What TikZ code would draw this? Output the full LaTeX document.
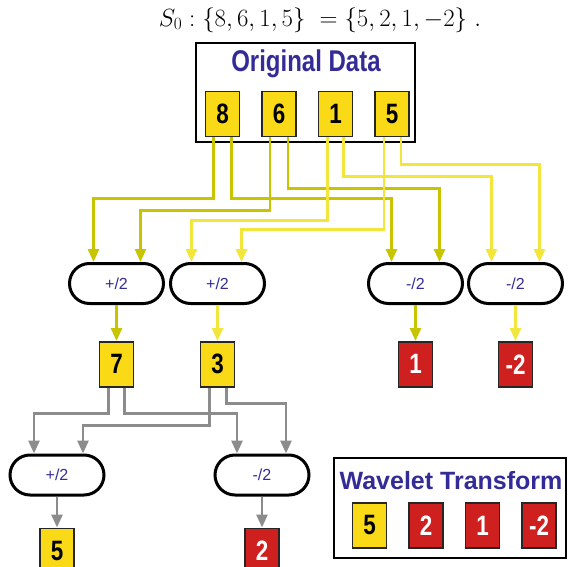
\documentclass[tikz,border=0pt]{standalone}
\usepackage{fontspec}
\newfontfamily\narrowfont[FakeStretch=0.8]{Liberation Sans}
\newfontfamily\plainfont{Liberation Sans}
\usetikzlibrary{arrows.meta,positioning,calc}
\definecolor{boxyellow}{RGB}{250,218,22}
\definecolor{boxred}{RGB}{206,32,30}
\definecolor{lineolive}{RGB}{200,196,0}
\definecolor{lineyellow}{RGB}{242,230,60}
\definecolor{linegray}{RGB}{140,140,140}
\definecolor{txtblue}{RGB}{52,44,150}

\begin{document}
\begin{tikzpicture}[x=1pt,y=-1pt,>={Triangle[length=13pt,width=11pt]},
    num/.style={draw=black!85,line width=1.5pt,fill=boxyellow,minimum width=34pt,minimum height=45pt,inner sep=0pt,font=\narrowfont\bfseries\fontsize{28}{28}\selectfont},
    neg/.style={num,fill=boxred,text=white},
    op/.style={draw,line width=3pt,rounded corners=20pt,minimum width=94pt,minimum height=40pt,inner sep=0pt,text=txtblue,font=\plainfont\fontsize{16}{16}\selectfont},
    frame/.style={draw,line width=2pt,inner sep=0pt},
    ol/.style={->,draw=lineolive,line width=2.8pt},
    yl/.style={->,draw=lineyellow,line width=2.8pt},
    gl/.style={->,draw=linegray,line width=2.8pt}]
    \useasboundingbox (0,0) rectangle (568,567);
    \clip (0,0) rectangle (568,567);
    \node[font=\fontsize{24}{24}\selectfont] (title) at (320,20) {$S_0:\{8,6,1,5\}\ =\{5,2,1,-2\}\ .$};
    \node[frame,minimum width=219pt,minimum height=99pt] (orig) at (305.5,92.5) {};
    \node[text=txtblue,font=\narrowfont\bfseries\fontsize{30}{30}\selectfont] (origlbl) at (306,64) {Original Data};
    \node[num] (d8) at (222.5,114) {8};
    \node[num,right=21pt of d8] (d6) {6};
    \node[num,right=21pt of d6] (d1) {1};
    \node[num,right=21pt of d1] (d5) {5};
    \node[op] (pa) at (116.5,283.5) {+/2};
    \node[op] (pb) at (217.5,283.5) {+/2};
    \node[op] (pc) at (415.5,283.5) {-/2};
    \node[op] (pd) at (515.5,283.5) {-/2};
    \draw[ol] ([xshift=-9pt]d8.south) -- ++(0,61) -| ([xshift=-23pt]pa.north);
    \draw[ol] ([xshift=9pt]d8.south) -- ++(0,61) -| ([xshift=-24pt]pc.north);
    \draw[ol] ([xshift=-9pt]d6.south) -- ++(0,73) -| ([xshift=24pt]pa.north);
    \draw[ol] ([xshift=9pt]d6.south) -- ++(0,51) -| ([xshift=24pt]pc.north);
    \draw[yl] ([xshift=-8pt]d1.south) -- ++(0,83) -| ([xshift=-26pt]pb.north);
    \draw[yl] ([xshift=8pt]d1.south) -- ++(0,39) -| ([xshift=-24pt]pd.north);
    \draw[yl] ([xshift=-8pt]d5.south) -- ++(0,92) -| ([xshift=24pt]pb.north);
    \draw[yl] ([xshift=9pt]d5.south) -- ++(0,27) -| ([xshift=24pt]pd.north);
    \node[num,below=36pt of pa] (r7) {7};
    \node[num,below=36pt of pb] (r3) {3};
    \node[neg,below=36pt of pc] (r1) {1};
    \node[neg,below=36pt of pd] (rm2) {-2};
    \draw[ol] (pa) -- (r7);
    \draw[yl] (pb) -- (r3);
    \draw[ol] (pc) -- (r1);
    \draw[yl] (pd) -- (rm2);
    \node[op] (qa) at (57,475) {+/2};
    \node[op] (qb) at (262,475) {-/2};
    \draw[gl] ([xshift=-8pt]r7.south) -- ++(0,26) -| ([xshift=-23pt]qa.north);
    \draw[gl] ([xshift=8pt]r7.south) -- ++(0,26) -| ([xshift=-25pt]qb.north);
    \draw[gl] ([xshift=-8pt]r3.south) -- ++(0,38) -| ([xshift=26pt]qa.north);
    \draw[gl] ([xshift=9pt]r3.south) -- ++(0,16) -| ([xshift=24pt]qb.north);
    \node[num,below=31pt of qa] (s5) {5};
    \node[neg,below=31pt of qb] (s2) {2};
    \draw[gl] (qa) -- (s5);
    \draw[gl] (qb) -- (s2);
    \node[frame,minimum width=232pt,minimum height=100pt] (wt) at (450,508) {};
    \node[text=txtblue,font=\plainfont\bfseries\fontsize{25}{25}\selectfont] (wtlbl) at (451,481) {Wavelet Transform};
    \node[num] (w5) at (369.5,525.5) {5};
    \node[neg,right=21pt of w5] (w2) {2};
    \node[neg,right=21pt of w2] (w1) {1};
    \node[neg,right=21pt of w1] (wm2) {-2};
  \end{tikzpicture}
\end{document}
